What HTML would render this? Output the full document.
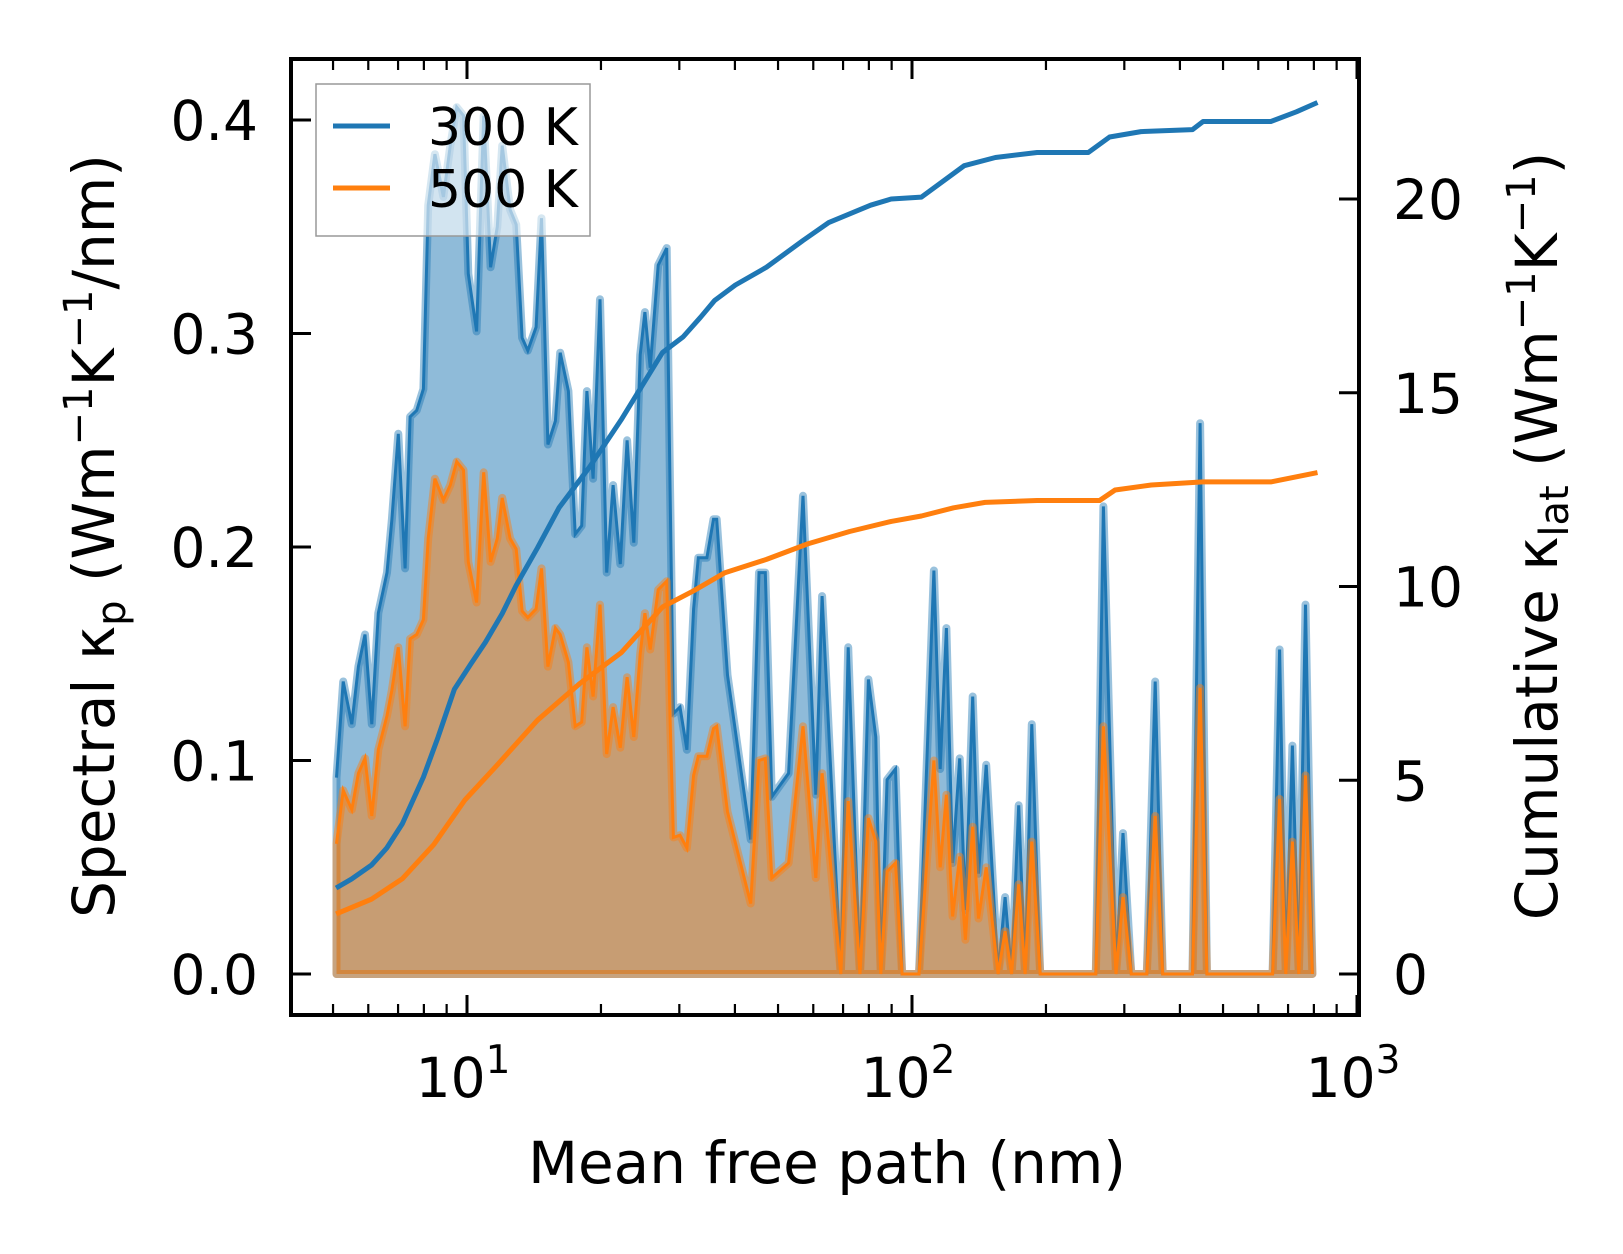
<!DOCTYPE html>
<html><head><meta charset="utf-8"><style>
html,body{margin:0;padding:0;background:#fff;}
svg{display:block;font-family:"DejaVu Sans","Liberation Sans",sans-serif;}
</style></head><body>
<svg id="chart" width="1623" height="1254" viewBox="0 0 1623 1254" xmlns="http://www.w3.org/2000/svg">
<rect width="1623" height="1254" fill="#fff"/>
<g id="plot"></g>
<g id="axes"></g>
</svg>
<script>
const mfp = [5.09,5.27,5.51,5.70,5.90,6.11,6.32,6.61,6.78,7.01,7.26,7.45,7.71,7.98,8.18,8.47,8.85,9.17,9.48,9.82,10.07,10.51,10.9,11.3,11.7,12.0,12.5,12.9,13.3,13.7,14.3,14.7,15.2,15.8,16.2,16.9,17.5,18.1,18.6,19.2,19.9,20.6,21.3,22.1,22.9,23.7,24.5,25.1,25.8,26.9,28.1,28.6,29.1,30.1,31.2,32.3,33.1,34.6,35.8,36.4,38.5,43.4,45.3,46.8,48.4,52.8,56.9,60.8,62.8,69.2,71.9,76.4,79.8,82.9,85.1,87.9,91.8,95,103.7,112,115.7,119.5,123.4,128,131.8,136.9,141.1,146.8,156.1,161.9,167.4,173.7,179.5,185.9,194.1,258.8,269.2,287.3,298,311,337,352,366,427,444,460,646,670,692,716,740,766,794];
const spec300 = [.092,.137,.117,.144,.159,.117,.169,.188,.213,.253,.190,.261,.264,.274,.360,.384,.364,.388,.406,.402,.328,.301,.402,.331,.350,.388,.358,.351,.298,.292,.303,.354,.248,.259,.291,.273,.206,.210,.273,.232,.316,.188,.229,.192,.250,.202,.290,.310,.284,.332,.340,.226,.122,.125,.105,.171,.195,.195,.213,.213,.140,.063,.188,.188,.083,.094,.224,.084,.177,0,.153,0,.138,.111,0,.091,.096,0,0,.189,.096,.162,.052,.101,.030,.130,.047,.098,0,.036,0,.079,0,.117,0,0,.219,0,.066,0,0,.137,0,0,.258,0,0,.152,0,.107,0,.173,0];
const spec500 = [.061,.086,.077,.094,.101,.074,.105,.121,.133,.153,.116,.157,.159,.166,.204,.232,.222,.229,.240,.236,.193,.174,.235,.193,.204,.223,.204,.199,.170,.167,.171,.190,.144,.162,.159,.146,.116,.118,.153,.130,.173,.103,.125,.106,.139,.111,.150,.169,.152,.180,.184,.119,.064,.065,.059,.093,.102,.102,.115,.116,.076,.033,.100,.101,.045,.052,.116,.045,.094,0,.081,0,.073,.062,0,.048,.052,0,0,.100,.050,.084,.027,.055,.016,.069,.026,.050,0,.020,0,.042,0,.062,0,0,.116,0,.036,0,0,.074,0,0,.134,0,0,.082,0,.062,0,.093,0];
const cumX300 = [5.08,5.5,6.1,6.6,7.16,7.98,8.6,9.37,10.2,11.0,12.0,12.9,14.4,16.1,18.9,22.2,27.5,30.6,33.5,36.0,40.1,47.1,56.9,65.0,80.7,89.8,105,131,154,191,249,278,327,427,451,640,731,815];
const cum300 = [2.22,2.45,2.81,3.25,3.88,5.08,6.1,7.35,8.0,8.56,9.3,10.03,11.0,12.03,13.1,14.3,16.04,16.44,16.95,17.38,17.78,18.24,18.93,19.39,19.84,20.0,20.05,20.86,21.07,21.2,21.2,21.6,21.74,21.79,22.0,22.0,22.25,22.49];
const cumX500 = [5.08,6.1,7.16,8.42,9.89,11.6,14.4,17.9,22.2,27.5,32.3,37.9,47.1,58.3,72.4,89.8,105,124,146,191,264,286,345,451,640,731,815];
const cum500 = [1.55,1.93,2.46,3.34,4.49,5.35,6.55,7.49,8.29,9.47,9.89,10.35,10.70,11.10,11.42,11.68,11.82,12.03,12.17,12.22,12.22,12.49,12.62,12.70,12.70,12.83,12.94];
const leftTicks = [0.0,0.1,0.2,0.3,0.4];
const leftTickLabels = ["0.0","0.1","0.2","0.3","0.4"];
const rightTicks = [0,5,10,15,20];
const xDecades = [1,2,3];

const L=291,R=1359,T=59,B=1015;
const xS = v => 467 + (Math.log10(v)-1)*445;
const yL = v => 974 - v*2135;
const yR = v => 974 - v*38.75;
const NS="http://www.w3.org/2000/svg";
const plot=document.getElementById('plot'), axes=document.getElementById('axes');
function mk(tag,attrs,parent){const e=document.createElementNS(NS,tag);for(const k in attrs)e.setAttribute(k,attrs[k]);parent.appendChild(e);return e;}

function areaPath(xs,ys){let d='M'+xS(xs[0]).toFixed(1)+','+yL(0);xs.forEach((x,i)=>{d+='L'+xS(x).toFixed(1)+','+yL(ys[i]).toFixed(1);});d+='L'+xS(xs[xs.length-1]).toFixed(1)+','+yL(0)+'Z';return d;}
function linePath(xs,ys,yf){return xs.map((x,i)=>(i?'L':'M')+xS(x).toFixed(1)+','+yf(ys[i]).toFixed(1)).join('');}

const a3=mk('path',{d:areaPath(mfp,spec300),fill:'#1f77b4','fill-opacity':0.5,stroke:'#1f77b4','stroke-opacity':0.45,'stroke-width':8,'stroke-linejoin':'round'},plot);


const l3=mk('path',{d:linePath(mfp,spec300,yL),fill:'none',stroke:'#1f77b4','stroke-width':3},plot);


const a5=mk('path',{d:areaPath(mfp,spec500),fill:'#ff7f0e','fill-opacity':0.5,stroke:'#ff7f0e','stroke-opacity':0.45,'stroke-width':8,'stroke-linejoin':'round'},plot);


const l5=mk('path',{d:linePath(mfp,spec500,yL),fill:'none',stroke:'#ff7f0e','stroke-width':3},plot);


const c3=mk('path',{d:linePath(cumX300,cum300,yR),fill:'none',stroke:'#1f77b4','stroke-width':5,'stroke-linejoin':'round'},plot);


const c5=mk('path',{d:linePath(cumX500,cum500,yR),fill:'none',stroke:'#ff7f0e','stroke-width':5,'stroke-linejoin':'round'},plot);



// legend
const lg=mk('g',{},plot);


mk('rect',{x:316,y:84,width:274,height:152,fill:'#fff','fill-opacity':0.6,stroke:'#999','stroke-width':1.5},lg);
const items=[['300 K','#1f77b4',126],['500 K','#ff7f0e',188]];
items.forEach(it=>{
  const g=mk('g',{},lg);
  
  
  mk('line',{x1:333,x2:390,y1:it[2],y2:it[2],stroke:it[1],'stroke-width':5},g);
  const t=mk('text',{x:428,y:it[2]+19,'font-size':52,fill:'#000'},g);t.textContent=it[0];
});

// frame
const fr=mk('rect',{x:L,y:T,width:R-L,height:B-T,fill:'none',stroke:'#000','stroke-width':4},axes);


leftTicks.forEach((v,i)=>{
  const y=yL(v);
  const tk=mk('line',{x1:L,x2:L+20,y1:y,y2:y,stroke:'#000','stroke-width':3},axes);
  
  
  const t=mk('text',{x:258,y:y+20,'font-size':55,'text-anchor':'end'},axes);
  
  
  t.textContent=leftTickLabels[i];
});
rightTicks.forEach(v=>{
  const y=yR(v);
  const tk=mk('line',{x1:R-20,x2:R,y1:y,y2:y,stroke:'#000','stroke-width':3},axes);
  
  
  const t=mk('text',{x:1393,y:y+20,'font-size':55},axes);
  
  
  t.textContent=String(v);
});
for(let d=0;d<=2;d++){for(let m=1;m<=9;m++){
  const v=m*Math.pow(10,d);const x=xS(v);
  if(x<L+2||x>R-1)continue;
  const len=m===1?20:11;
  mk('line',{x1:x,x2:x,y1:B,y2:B-len,stroke:'#000','stroke-width':m===1?3:2.2},axes);
  mk('line',{x1:x,x2:x,y1:T,y2:T+len,stroke:'#000','stroke-width':m===1?3:2.2},axes);
}}
{const x=xS(1000);mk('line',{x1:x,x2:x,y1:B,y2:B-20,stroke:'#000','stroke-width':3},axes);mk('line',{x1:x,x2:x,y1:T,y2:T+20,stroke:'#000','stroke-width':3},axes);}
xDecades.forEach(p=>{
  const x=xS(Math.pow(10,p));
  const t=mk('text',{x:x-4,y:1097,'font-size':55,'text-anchor':'middle'},axes);
  
  
  t.innerHTML='10<tspan dy="-24" font-size="39">'+p+'</tspan>';
});
</script>
<svg style="position:absolute;left:0;top:0" width="1623" height="1254" xmlns="http://www.w3.org/2000/svg">
<text x="827" y="1183" font-size="58" text-anchor="middle" font-family="DejaVu Sans, Liberation Sans, sans-serif">Mean free path (nm)</text>
<text transform="translate(114,536) rotate(-90)" font-size="58" text-anchor="middle" font-family="DejaVu Sans, Liberation Sans, sans-serif">Spectral κ<tspan font-size="40" dy="11">p</tspan><tspan dy="-11"> (Wm</tspan><tspan font-size="40" dy="-22">−1</tspan><tspan dy="22">K</tspan><tspan font-size="40" dy="-22">−1</tspan><tspan dy="22">/nm)</tspan></text>
<text transform="translate(1557,536) rotate(-90)" font-size="58" text-anchor="middle" font-family="DejaVu Sans, Liberation Sans, sans-serif">Cumulative κ<tspan font-size="40" dy="11">lat</tspan><tspan dy="-11"> (Wm</tspan><tspan font-size="40" dy="-22">−1</tspan><tspan dy="22">K</tspan><tspan font-size="40" dy="-22">−1</tspan><tspan dy="22">)</tspan></text>
</svg>
</body></html>
